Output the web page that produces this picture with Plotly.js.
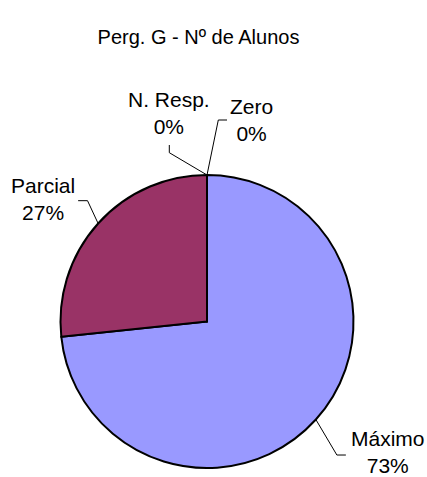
<!DOCTYPE html>
<html>
<head>
<meta charset="utf-8">
<script src="https://cdn.plot.ly/plotly-3.0.1.min.js"></script>
<style>html,body{margin:0;padding:0;background:#fff;}#chart{width:427px;height:477px;}</style>
</head>
<body>
<div id="chart"></div>
<script>
// ---- data ----
const categories = ["Máximo", "Parcial", "Zero", "N. Resp."];
const values = [11, 4, 0, 0];
const colors = ["#9999FF", "#993366", "#FFFFCC", "#CCFFFF"];
const chartTitle = "Perg. G - Nº de Alunos";

// ---- layout config (pixels) ----
const W = 427, H = 477;
const cx = 207, cy = 321.5, R = 146.5;
// label placement relative to slice anchor point: text centre, elbow, end of leader
const labelCfg = [
  {tx: 72, ty: 32, ex: 21, ey: 35.5, lx: 30, ly: 35.5},
  {tx: -55, ty: -24, ex: -10.6, ey: -22.8, lx: -20, ly: -22.8},
  {tx: 44.5, ty: -55, ex: 11.3, ey: -55, lx: 20, ly: -55},
  {tx: -38, ty: -62, ex: -37.7, ey: -22.3, lx: -37.7, ly: -30}
];

const total = values.reduce((a, b) => a + b, 0);
const px = x => x / W, py = y => 1 - y / H;

const shapes = [], annotations = [];
let cum = 0;
values.forEach((v, i) => {
  const mid = (cum + v / 2) / total * 2 * Math.PI;
  cum += v;
  const ax = cx + R * Math.sin(mid), ay = cy - R * Math.cos(mid);
  const c = labelCfg[i];
  const pts = [[ax, ay], [ax + c.ex, ay + c.ey], [ax + c.lx, ay + c.ly]];
  shapes.push({type: 'path', xref: 'paper', yref: 'paper',
    path: 'M' + pts.map(p => px(p[0]) + ',' + py(p[1])).join(' L'),
    line: {color: '#000', width: 1}});
  annotations.push({xref: 'paper', yref: 'paper', x: px(ax + c.tx), y: py(ay + c.ty),
    xanchor: 'center', yanchor: 'middle', showarrow: false, align: 'center',
    text: categories[i] + '<br>' + Math.round(v / total * 100) + '%',
    font: {family: 'Liberation Sans, Arial, sans-serif', size: 21, color: '#000'}});
});

const data = [{
  type: 'pie', labels: categories, values: values, sort: false, direction: 'clockwise',
  rotation: 0, textinfo: 'none', hoverinfo: 'label+percent',
  marker: {colors: colors, line: {color: '#000', width: 2}},
  domain: {x: [px(cx - R), px(cx + R)], y: [py(cy + R), py(cy - R)]},
  showlegend: false
}];

const layout = {
  width: W, height: H, margin: {l: 0, r: 0, t: 0, b: 0},
  paper_bgcolor: '#fff', plot_bgcolor: '#fff',
  title: {text: chartTitle, x: 198.5 / W, y: py(37), xanchor: 'center', yanchor: 'middle', xref: 'paper', yref: 'paper',
    font: {family: 'Liberation Sans, Arial, sans-serif', size: 20, color: '#000'}},
  shapes: shapes, annotations: annotations, showlegend: false
};
Plotly.newPlot('chart', data, layout, {staticPlot: true});
</script>
</body>
</html>
